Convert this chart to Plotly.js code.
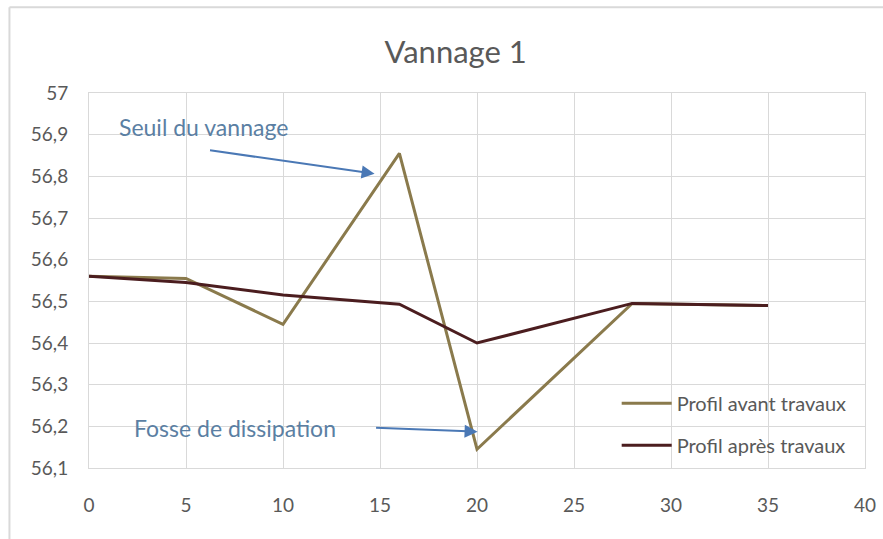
<!DOCTYPE html>
<html>
<head>
<meta charset="utf-8">
<script src="https://cdn.plot.ly/plotly-3.0.1.min.js"></script>
<style>
  html, body { margin: 0; padding: 0; background: #ffffff; overflow: hidden; }
  #chart { position: absolute; left: 0; top: 0; width: 883px; height: 539px; }
</style>
</head>
<body>
<div id="chart"></div>
<script>
// Data
const distances = [0, 5, 10, 16, 20, 28, 35];
const profilAvant = [56.56, 56.555, 56.445, 56.855, 56.145, 56.495, 56.49];
const profilApres = [56.56, 56.545, 56.515, 56.493, 56.40, 56.495, 56.49];
const seriesNames = ["Profil avant travaux", "Profil après travaux"];
const xTickVals = [0, 5, 10, 15, 20, 25, 30, 35, 40];
const yTickVals = [56.1, 56.2, 56.3, 56.4, 56.5, 56.6, 56.7, 56.8, 56.9, 57];
const yTickText = ["56,1", "56,2", "56,3", "56,4", "56,5", "56,6", "56,7", "56,8", "56,9", "57"];
const chartTitle = "Vannage 1";
const noteSeuil = "Seuil du vannage";
const noteFosse = "Fosse de dissipation";

const FONT = "Lato, 'Open Sans', sans-serif";
const GREY = "#595959";
const GRID = "#d9d9d9";
const ARROW = "#4a78b5";
const NOTE = "#5b7fa3";

const traces = [
  { x: distances, y: profilAvant, name: seriesNames[0], type: "scatter", mode: "lines",
    line: { color: "#8a7a4c", width: 3 }, legendgroup: "a" },
  { x: distances, y: profilApres, name: seriesNames[1], type: "scatter", mode: "lines",
    line: { color: "#4b1d1f", width: 3 }, legendgroup: "b" }
];

const layout = {
  width: 883, height: 539,
  paper_bgcolor: "#ffffff", plot_bgcolor: "#ffffff",
  margin: { l: 89, r: 18, t: 93, b: 71, pad: 0 },
  font: { family: FONT, color: GREY, size: 19 },
  title: { text: chartTitle, font: { family: FONT, size: 31, color: GREY },
           xref: "container", yref: "container", x: 0.516, y: 0.903,
           xanchor: "center", yanchor: "middle" },
  xaxis: { range: [0, 40], tickvals: xTickVals, showgrid: true, gridcolor: GRID, gridwidth: 1,
           showline: true, linecolor: GRID, linewidth: 1, mirror: true, zeroline: false,
           ticks: "", ticklabelstandoff: 20, tickfont: { family: FONT, size: 19, color: GREY } },
  yaxis: { range: [56.1, 57], tickvals: yTickVals, ticktext: yTickText, showgrid: true,
           gridcolor: GRID, gridwidth: 1, showline: true, linecolor: GRID, linewidth: 1,
           mirror: true, zeroline: false, ticks: "", ticklabelstandoff: 16,
           tickfont: { family: FONT, size: 19, color: GREY } },
  showlegend: true,
  legend: { x: 0.68, y: 0.225, xanchor: "left", yanchor: "top", bgcolor: "rgba(0,0,0,0)",
            font: { family: FONT, size: 20, color: GREY }, tracegroupgap: 13, itemwidth: 50 },
  shapes: [
    { type: "line", xref: "paper", yref: "paper", x0: -0.1025, x1: -0.1025, y0: -0.2, y1: 1.2285,
      line: { color: GRID, width: 2 } },
    { type: "line", xref: "paper", yref: "paper", x0: -0.1025, x1: 1.1, y0: 1.2285, y1: 1.2285,
      line: { color: GRID, width: 2 } }
  ],
  annotations: [
    { x: 5.88, y: 56.918, xref: "x", yref: "y", text: noteSeuil, showarrow: false,
      font: { family: FONT, size: 23, color: NOTE }, xanchor: "center", yanchor: "middle" },
    { x: 14.72, y: 56.806, ax: 6.16, ay: 56.863, xref: "x", yref: "y", axref: "x", ayref: "y",
      text: "", showarrow: true, arrowhead: 2, arrowsize: 1.3, arrowwidth: 2, arrowcolor: ARROW },
    { x: 7.55, y: 56.197, xref: "x", yref: "y", text: noteFosse, showarrow: false,
      font: { family: FONT, size: 23, color: NOTE }, xanchor: "center", yanchor: "middle" },
    { x: 20.03, y: 56.187, ax: 14.72, ay: 56.197, xref: "x", yref: "y", axref: "x", ayref: "y",
      text: "", showarrow: true, arrowhead: 2, arrowsize: 1.3, arrowwidth: 2, arrowcolor: ARROW }
  ]
};

Plotly.newPlot("chart", traces, layout, { displayModeBar: false, staticPlot: true });
</script>
</body>
</html>
